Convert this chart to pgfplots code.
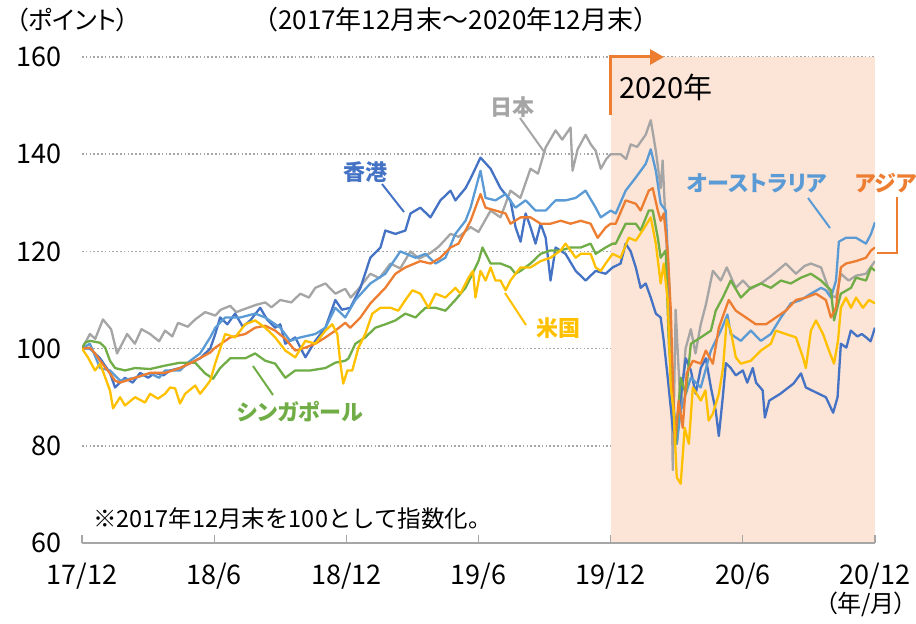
\documentclass[border=0pt]{standalone}
\usepackage{fontspec}
\setmainfont{Noto Sans CJK JP}
\newfontfamily\pfont{Noto Sans CJK JP}[RawFeature=+palt]
\usepackage{pgfplots}
\pgfplotsset{compat=1.18}
\usetikzlibrary{arrows.meta}
\definecolor{cJP}{HTML}{A5A5A5}
\definecolor{cHK}{HTML}{4472C4}
\definecolor{cAU}{HTML}{5B9BD5}
\definecolor{cAS}{HTML}{ED7D31}
\definecolor{cUS}{HTML}{FFC000}
\definecolor{cSG}{HTML}{70AD47}
\definecolor{cShade}{HTML}{FCE4D6}
\definecolor{cAxis}{HTML}{A6A6A6}
\begin{document}
\begin{tikzpicture}[x=1pt,y=1pt]
\useasboundingbox (0,0) rectangle (916,624);
\begin{axis}[
  at={(82pt,81pt)}, anchor=south west,
  scale only axis, width=793pt, height=486pt,
  xmin=0, xmax=36, ymin=60, ymax=160,
  axis x line*=bottom, axis y line*=left,
  axis line style={-},
  x axis line style={cAxis, line width=1.3pt},
  y axis line style={draw=none},
  xtick={0,6,...,36},
  xticklabels={17/12,18/6,18/12,19/6,19/12,20/6,20/12},
  ytick={60,80,...,160},
  tick align=inside,
  major tick length=8pt,
  xtick style={cAxis, line width=1.3pt},
  ytick style={draw=none},
  ymajorgrids,
  major grid style={cAxis, line width=1.6pt, dash pattern=on 1.6pt off 2.2pt},
  /pgf/number format/assume math mode=true,
  xticklabel style={font=\fontsize{27}{30}\selectfont, yshift=-17pt},
  yticklabel style={font=\fontsize{27}{30}\selectfont, xshift=-17pt},
  every axis plot/.append style={line width=2.3pt, line join=round},
]
\fill[cShade] (axis cs:24,60) rectangle (axis cs:36,160);

% Japan
\addplot[cJP] coordinates {(0,100)(0.36,103)(0.6,102)(0.95,106)(1.32,104)(1.59,99)(2.05,103)(2.4,101)(2.7,104)(3.09,103)(3.5,101.5)(3.77,103.7)(4.1,102.5)(4.36,105.3)(4.8,104.5)(5.14,106)(5.59,107.5)(6.05,106.8)(6.3,108)(6.73,108.8)(7.0,107.5)(7.41,108.2)(7.9,109)(8.32,109.5)(8.6,108.5)(9.0,110)(9.5,109.5)(9.91,111.3)(10.3,110.5)(10.59,112.5)(11.05,113.4)(11.5,111.3)(11.95,112.3)(12.2,110.5)(12.5,112)(13.09,115.4)(13.5,114.5)(14.0,117.5)(14.45,116.5)(14.91,120)(15.3,118.5)(15.82,119.7)(16.2,121)(16.73,123.6)(17.1,123)(17.64,125)(18.0,124)(18.55,128.4)(19.0,127)(19.45,132.5)(19.9,131)(20.36,137)(20.7,136)(21.05,141.4)(21.5,144.9)(21.8,143)(22.18,145.5)(22.27,136.6)(22.5,141)(22.86,144)(23.1,142)(23.32,140.7)(23.55,137)(23.8,139)(24.0,140)(24.45,140)(24.7,139)(24.91,142)(25.2,141.5)(25.59,144)(25.82,147)(26.05,140.7)(26.27,133)(26.36,138.7)(26.5,125)(26.73,101)(26.82,75)(26.95,108)(27.18,87)(27.4,100)(27.64,104)(27.85,99)(28.09,105)(28.32,109)(28.64,116)(29.0,114)(29.27,116.7)(29.68,112.5)(30.0,114)(30.36,112.3)(30.82,113.4)(31.3,115)(31.95,117.5)(32.41,115.4)(32.8,117)(33.09,117.5)(33.55,116.7)(34.0,111)(34.23,110.5)(34.45,115.4)(34.8,114)(35.14,115)(35.59,115.4)(36,118)};

% Hong Kong
\addplot[cHK] coordinates {(0,100)(0.36,100)(0.82,98)(1.27,95)(1.5,92)(1.95,94)(2.3,93)(2.64,95)(3.0,94)(3.32,95)(3.7,94.5)(4.0,95.5)(4.45,96)(4.91,97)(5.36,98)(5.82,100)(6.05,103)(6.27,106.4)(6.6,105)(6.95,107.2)(7.3,104.5)(7.64,105.8)(8.09,108.4)(8.4,106)(8.77,104.3)(9.0,105)(9.23,101)(9.68,102.3)(10.14,98.2)(10.59,101.6)(11.05,104.3)(11.5,110)(11.8,108)(12.18,108.4)(12.64,112.5)(13.09,118.7)(13.55,120.8)(13.77,124.3)(14.23,123.6)(14.68,124.3)(14.91,127.8)(15.36,129)(15.82,127)(16.27,130.5)(16.73,132.5)(16.95,130.5)(17.41,133)(17.64,135)(18.09,139.3)(18.55,137)(19.0,133)(19.45,130.5)(19.68,125)(19.91,122)(20.14,127.8)(20.36,125)(20.59,121.6)(20.82,125.7)(21.05,122.8)(21.27,114)(21.5,120.8)(21.95,119.5)(22.41,116)(22.86,114)(23.32,116)(23.77,115.4)(24.09,116.7)(24.45,117.5)(24.68,121.6)(24.91,120)(25.14,116.7)(25.36,112.5)(25.59,113.4)(25.82,110.5)(26.05,107.2)(26.27,106.4)(26.41,101.6)(26.59,94)(26.82,83.7)(27.0,80.4)(27.18,90)(27.41,98)(27.64,95.5)(27.86,90.7)(28.09,96)(28.32,98)(28.55,92)(28.77,87.2)(28.91,82)(29.09,90)(29.23,97)(29.45,96)(29.68,94.5)(30.0,95.5)(30.2,93)(30.45,96)(30.6,93)(30.9,91.4)(31.0,85.8)(31.2,89.3)(31.7,90.7)(32.3,92.8)(32.64,94.9)(32.86,92)(33.45,90.7)(33.77,90)(34.1,86.8)(34.3,90)(34.45,101)(34.7,100.2)(34.9,103.7)(35.2,102.5)(35.4,103)(35.6,102.3)(35.8,101.5)(36,104.3)};

% Australia
\addplot[cAU] coordinates {(0,100)(0.36,101)(0.82,96)(1.27,95.5)(1.73,93.4)(2.41,94)(3.09,94.9)(3.5,94)(3.77,95.5)(4.45,95.5)(4.91,97.5)(5.36,99)(5.82,102.3)(6.05,104.3)(6.5,106.4)(7.18,106.4)(7.86,107.2)(8.32,106.4)(9.0,104.3)(9.45,101.6)(9.91,102.3)(10.59,103)(11.05,104.3)(11.5,108.4)(11.95,106.4)(12.41,110)(13.09,113.4)(13.77,115.4)(14.45,120)(15.14,118.7)(15.59,119.5)(16.05,117.5)(16.5,118.7)(16.95,123.6)(17.41,126.3)(17.64,129)(18.09,136.6)(18.32,131)(18.77,130.5)(19.23,131.8)(19.68,129)(20.14,130.5)(20.59,128.4)(21.05,128.4)(21.5,130.5)(21.95,130.5)(22.41,131)(22.86,132.5)(23.32,129)(23.55,127)(24.0,128.4)(24.23,127.8)(24.68,132.5)(25.14,135.2)(25.59,138)(25.82,141)(26.05,136.6)(26.27,129.8)(26.5,128.4)(26.64,114.6)(26.82,90.7)(27.0,80.4)(27.18,87.2)(27.41,90.7)(27.64,94)(28.09,92)(28.55,99.6)(29.0,103.7)(29.3,107)(29.45,103)(29.91,101.6)(30.36,103.7)(30.82,101.6)(31.27,103)(31.73,106.4)(32.18,109.3)(32.64,110)(33.09,111.3)(33.55,112.5)(33.77,112)(34.0,110.5)(34.23,114)(34.36,122)(34.68,122.8)(35.14,122.8)(35.59,121.6)(35.82,123.6)(36,126)};

% Singapore
\addplot[cSG] coordinates {(0,100)(0.14,101.2)(0.36,101.6)(0.82,101.2)(1.05,100.2)(1.27,97.5)(1.5,96)(1.95,95.5)(2.41,96)(3.09,95.8)(3.77,96.5)(4.45,97.1)(5.14,97.1)(5.36,96)(5.59,94.9)(5.95,93.8)(6.27,96)(6.73,98)(7.41,98)(7.86,99)(8.32,97.5)(8.77,96.9)(9.23,94)(9.68,95.5)(10.36,95.5)(11.05,96)(11.5,97.1)(11.95,97.5)(12.1,98)(12.41,101)(12.86,102.3)(13.32,104.3)(13.77,105)(14.23,105.8)(14.68,107.2)(15.14,106.4)(15.59,108.4)(16.05,108.4)(16.5,107.8)(16.95,110)(17.41,112.5)(17.64,114.6)(18.0,118)(18.18,120.8)(18.55,117.5)(19.0,117.5)(19.45,116.7)(19.68,115.4)(19.91,116)(20.36,117.5)(20.82,119.5)(21.27,120.2)(21.73,120.2)(22.18,120.8)(22.64,120.8)(23.09,121.6)(23.32,119.5)(23.77,120.8)(24.09,121.6)(24.23,121.6)(24.68,125.7)(25.14,125.7)(25.36,124.3)(25.73,128.4)(25.91,128.4)(26.14,122.8)(26.27,118.7)(26.5,120.2)(26.64,101)(26.82,90.7)(26.95,80.4)(27.18,94)(27.41,90.7)(27.64,101)(28.09,102.3)(28.55,103.7)(28.77,107.8)(29.09,110.5)(29.45,114)(29.91,110.5)(30.36,112.5)(30.82,113.4)(31.27,112.5)(31.73,114)(32.18,113.4)(32.64,114.6)(33.09,115.4)(33.55,114)(34.0,112)(34.14,105.8)(34.45,111.3)(34.91,112.5)(35.14,114.6)(35.59,114)(35.82,116.7)(36,116)};

% Asia
\addplot[cAS] coordinates {(0,100)(0.36,100.2)(0.59,99)(0.82,97.5)(1.27,94.9)(1.5,93.4)(1.73,93)(2.41,94)(3.09,95)(3.77,95)(4.45,96)(5.14,97.5)(5.82,99.2)(6.05,100.2)(6.73,102.3)(7.41,103)(7.86,104.3)(8.32,104.7)(8.77,103.7)(9.23,102)(9.68,99.6)(10.14,100.2)(10.59,101)(11.05,102.3)(11.5,103.7)(11.95,105.3)(12.18,104.3)(12.64,106.4)(13.09,109.3)(13.77,112.5)(14.23,115.4)(14.68,116.7)(15.36,118)(15.82,117.5)(16.27,118.7)(16.73,120.8)(17.09,121.6)(17.41,124.3)(17.64,126.3)(18.09,131.8)(18.32,129)(18.77,128.4)(19.23,127.8)(19.45,125.7)(19.91,127)(20.36,127)(20.82,125.7)(21.27,125.7)(21.73,126.3)(22.18,125.7)(22.64,126.3)(23.09,125.7)(23.41,122.8)(23.77,124.9)(24.0,125.7)(24.23,125.7)(24.68,130.5)(25.14,129.8)(25.36,128.4)(25.73,132.5)(25.91,133)(26.14,128.4)(26.27,126.3)(26.41,127.8)(26.59,120)(26.73,107.8)(26.91,80.4)(27.09,89.3)(27.27,83.7)(27.45,94.9)(27.73,97.5)(28.09,96.9)(28.32,99.6)(28.64,96.9)(28.91,104.3)(29.36,110)(29.68,107.8)(30.14,106.4)(30.59,105)(31.05,105)(31.5,106.4)(31.95,107.8)(32.41,110)(32.86,110.5)(33.32,111.3)(33.77,110)(34.0,106.4)(34.23,108.4)(34.45,116.7)(34.68,117.5)(35.14,118)(35.59,118.7)(35.82,120.2)(36,120.8)};

% US
\addplot[cUS] coordinates {(0,100)(0.27,98.2)(0.59,95.5)(0.82,96.9)(1.27,91.4)(1.41,87.7)(1.73,90)(1.95,88.3)(2.41,90)(2.86,88.9)(3.09,90.7)(3.45,89.7)(3.77,90.7)(4.0,92)(4.23,91.8)(4.45,88.7)(4.68,90.7)(5.14,92.4)(5.36,90.7)(5.59,92)(5.82,93.4)(6.05,97)(6.5,103)(6.95,102.3)(7.41,105)(7.86,105.8)(8.32,104.3)(8.77,102.3)(9.23,99.6)(9.68,98.2)(10.14,101.6)(10.59,101)(11.05,103.7)(11.36,105)(11.59,103)(11.73,96.9)(11.86,92.8)(12.05,95.5)(12.27,95.5)(12.55,100.2)(12.86,103)(13.18,107.2)(13.55,108.4)(14.0,108.4)(14.36,107.8)(14.68,110)(15.0,112)(15.36,111.3)(15.73,108.4)(16.05,111.3)(16.5,110.5)(16.95,112.5)(17.18,111.3)(17.55,114.6)(17.75,116)(17.86,110.5)(18.09,116)(18.32,114)(18.55,116.7)(18.77,114)(19.0,114)(19.23,112)(19.45,114)(19.68,115.4)(19.91,116.7)(20.36,116.7)(20.82,118)(21.27,118.7)(21.73,120.2)(21.95,121.6)(22.18,120.2)(22.41,118.7)(22.64,119.5)(23.09,119.5)(23.32,116.7)(23.55,116)(23.77,117.5)(24.09,119.5)(24.45,118.7)(24.82,122.8)(25.14,122.2)(25.45,124.3)(25.82,127)(26.05,121.6)(26.27,113.4)(26.41,117.5)(26.59,110)(26.73,92)(26.86,87.2)(27.0,73.5)(27.18,72.2)(27.36,83.7)(27.55,80.4)(27.73,92)(28.09,89.3)(28.3,91.4)(28.45,85.2)(28.64,86.6)(28.91,90.7)(29.1,96)(29.27,106)(29.45,103.7)(29.68,98.2)(29.91,96.9)(30.36,97.5)(30.82,99.6)(31.27,101)(31.5,103.7)(31.95,103)(32.41,102.3)(32.73,98.2)(32.86,96)(33.09,103.7)(33.32,105.8)(33.64,103)(33.91,99.6)(34.14,96.9)(34.32,101.6)(34.45,108.4)(34.68,110.5)(34.91,108.4)(35.14,110.5)(35.45,108.4)(35.73,110)(36,109.3)};

\draw[cAxis, line width=1.3pt] (axis cs:24,60) -- (axis cs:36,60);
\draw[cAxis, line width=1.3pt] (axis cs:24,60) -- ++(0pt,8pt);
\draw[cAxis, line width=1.3pt] (axis cs:30,60) -- ++(0pt,8pt);
\draw[cAxis, line width=1.3pt] (axis cs:36,60) -- ++(0pt,8pt);
\end{axis}

% texts
\node[anchor=west, inner sep=0pt, font=\pfont\fontsize{25}{29}\selectfont] at (16,604) {（ポイント）};
\node[anchor=west, inner sep=0pt, font=\fontsize{26}{30}\selectfont] at (252,604) {（2017年12月末～2020年12月末）};
\node[anchor=west, inner sep=0pt, font=\fontsize{23.5}{27}\selectfont] at (93,105) {※2017年12月末を100として指数化。};
\node[anchor=center, inner sep=0pt, font=\pfont\fontsize{24}{28}\selectfont] at (866,20) {（年/月）};
\node[anchor=west, inner sep=0pt, font=\fontsize{29}{32}\selectfont] at (619,537) {2020年};

% arrow
\draw[cAS, line width=3pt, -{Triangle[length=14pt,width=15pt]}] (610,509) -- (610,567) -- (664,567);

% series labels
\node[font=\pfont\bfseries\fontsize{22}{26}\selectfont, text=cJP] at (512,517) {日本};
\draw[cJP, line width=2pt] (520,506) -- (545,471);
\node[font=\pfont\bfseries\fontsize{22}{26}\selectfont, text=cHK] at (365,452) {香港};
\draw[cHK, line width=2pt] (382,440) -- (404,412);
\node[font=\pfont\bfseries\fontsize{22}{26}\selectfont, text=cAU] at (757,441) {オーストラリア};
\draw[cAU, line width=2pt] (808,426) -- (830,396);
\node[font=\pfont\bfseries\fontsize{22}{26}\selectfont, text=cAS] at (886,441) {アジア};
\draw[cAS, line width=2pt] (897,427) -- (897,371) -- (877,371);
\node[font=\pfont\bfseries\fontsize{22}{26}\selectfont, text=cUS] at (558,296) {米国};
\draw[cUS, line width=2pt] (505,331) -- (526,299);
\node[font=\pfont\bfseries\fontsize{22}{26}\selectfont, text=cSG] at (300,212) {シンガポール};
\draw[cSG, line width=2pt] (253,258) -- (273,229);
\end{tikzpicture}
\end{document}
